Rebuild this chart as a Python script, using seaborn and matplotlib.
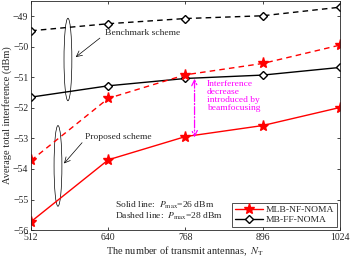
import matplotlib
matplotlib.use("Agg")
import matplotlib.pyplot as plt
import seaborn as sns
from matplotlib.patches import Ellipse

antennas = [512, 640, 768, 896, 1024]
prop_26 = [-55.72, -53.70, -52.94, -52.58, -51.99]
prop_28 = [-53.72, -51.69, -50.92, -50.55, -49.95]
bench_26 = [-51.65, -51.28, -51.04, -50.93, -50.68]
bench_28 = [-49.48, -49.25, -49.08, -48.99, -48.71]
yticks = [-56, -55, -54, -53, -52, -51, -50, -49]

sns.set_style("ticks")
plt.rcParams['font.family'] = ['Liberation Serif', 'DejaVu Serif']
plt.rcParams['mathtext.fontset'] = 'stix'
plt.rcParams['xtick.direction'] = 'in'
plt.rcParams['ytick.direction'] = 'in'

fig = plt.figure(figsize=(3.5, 2.63), dpi=100)
ax = fig.add_axes([0.089, 0.125, 0.882, 0.872])

def draw(vals, color, ls, marker, ms, label=None):
    sns.lineplot(x=antennas, y=vals, ax=ax, color=color, linestyle=ls, marker=marker,
                 markersize=ms, markerfacecolor=color if marker == '*' else 'white',
                 markeredgecolor=color, markeredgewidth=1.0, linewidth=1.0, label=label)

draw(prop_26, 'red', '-', '*', 8, 'MLB-NF-NOMA')
draw(bench_26, 'black', '-', 'D', 4.5, 'MB-FF-NOMA')
draw(prop_28, 'red', (0, (4, 3)), '*', 8)
draw(bench_28, 'black', (0, (4, 3)), 'D', 4.5)

ax.set_xlim(512, 1024)
ax.set_ylim(-56, -48.5)
ax.set_xticks(antennas)
ax.set_yticks(yticks)
ax.tick_params(labelsize=7, length=2.5, width=0.6, top=True, right=True, pad=2)
for s in ax.spines.values():
    s.set_linewidth(0.6)
ax.set_xlabel(r"The number of transmit antennas,  $N_\mathrm{T}$", fontsize=7.5, labelpad=2)
ax.set_ylabel("Average total interference (dBm)", fontsize=7.5, labelpad=1)

# ellipses
ax.add_patch(Ellipse((573, -50.42), 13, 2.7, fill=False, edgecolor='black', linewidth=0.5))
ax.add_patch(Ellipse((556.5, -53.9), 13, 2.64, fill=False, edgecolor='black', linewidth=0.5))

ax.annotate("", xy=(586, -50.34), xytext=(626, -49.72),
            arrowprops=dict(arrowstyle='->', color='black', lw=0.5, shrinkA=0, shrinkB=0))
ax.text(634, -49.55, "Benchmark scheme", fontsize=6.8, va='center', ha='left')
ax.annotate("", xy=(566.5, -53.82), xytext=(596.5, -53.14),
            arrowprops=dict(arrowstyle='->', color='black', lw=0.5, shrinkA=0, shrinkB=0))
ax.text(601, -52.97, "Proposed scheme", fontsize=6.8, va='center', ha='left')

ax.annotate("", xy=(783, -52.97), xytext=(783, -51.05),
            arrowprops=dict(arrowstyle='<->', color='magenta', lw=0.9, linestyle='-.',
                            shrinkA=0, shrinkB=0))
ax.text(803, -51.08, "Interference\ndecrease\nintroduced by\nbeamfocusing", color='magenta',
        fontsize=6.8, va='top', ha='left', linespacing=1.0)

ax.text(651, -55.19, r"Solid line:  $P_{\mathrm{max}}$=26 dBm", fontsize=6.8, va='center')
ax.text(651, -55.55, r"Dashed line:  $P_{\mathrm{max}}$=28 dBm", fontsize=6.8, va='center')

leg = ax.legend(loc='lower right', fontsize=6.8, frameon=True, fancybox=False,
                edgecolor='black', borderpad=0.3, labelspacing=0.15, handlelength=3.0,
                handletextpad=0.3, borderaxespad=0.3)
leg.get_frame().set_linewidth(0.6)

fig.savefig("out.png", dpi=100)
